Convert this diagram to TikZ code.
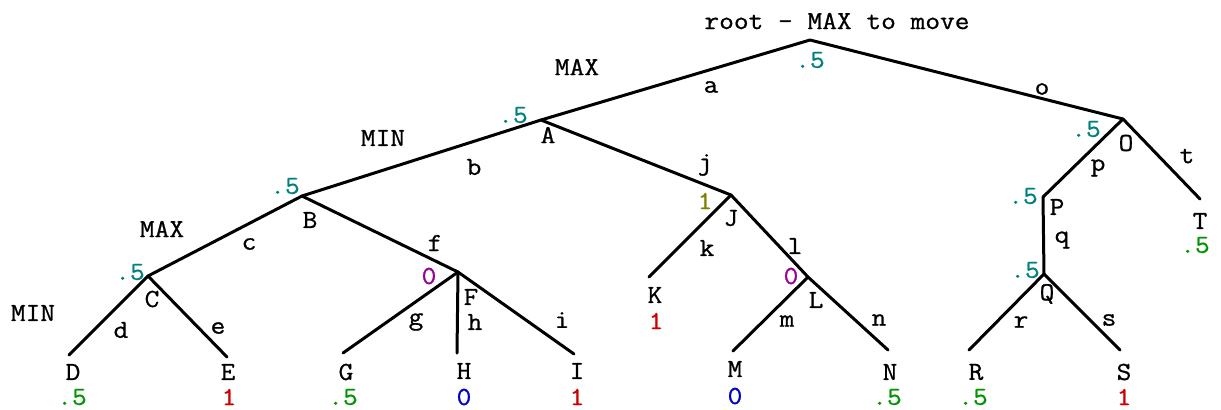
\documentclass[tikz,border=0pt]{standalone}
\usepackage{fontspec}
\newfontfamily\cour[FakeStretch=1.1,FakeBold=0.8]{Latin Modern Mono}
\definecolor{vteal}{RGB}{0,128,128}
\definecolor{vgreen}{RGB}{0,150,0}
\definecolor{vred}{RGB}{204,0,0}
\definecolor{vblue}{RGB}{0,0,204}
\definecolor{vpurple}{RGB}{153,0,153}
\definecolor{volive}{RGB}{128,128,0}
\tikzset{
  every node/.style={inner sep=0pt, font=\cour\fontsize{13}{14}\selectfont},
  branch/.style={line width=1.5pt, line cap=round, line join=round},
  nm/.style={text=black},
  el/.style={text=black},
  pl/.style={text=black},
  vteal/.style={text=vteal},
  vgreen/.style={text=vgreen},
  vred/.style={text=vred},
  vblue/.style={text=vblue},
  vpurple/.style={text=vpurple},
  volive/.style={text=volive},
}
\begin{document}
\begin{tikzpicture}[x=0.5pt,y=-0.5pt]
\useasboundingbox (0,0) rectangle (1221,409);
% tree vertices
\coordinate (root) at (810,40);
\coordinate (A) at (541,120);
\coordinate (O) at (1123,119);
\coordinate (B) at (302,196);
\coordinate (J) at (731,195);
\coordinate (C) at (148,276);
\coordinate (F) at (458,272);
\coordinate (D) at (69,355);
\coordinate (E) at (227,357);
\coordinate (G) at (343,353);
\coordinate (H) at (457,353);
\coordinate (I) at (574,354);
\coordinate (K) at (649,277);
\coordinate (L) at (808,277);
\coordinate (M) at (733,351);
\coordinate (N) at (888,350);
\coordinate (P) at (1043,197);
\coordinate (Q) at (1044,274);
\coordinate (R) at (969,350);
\coordinate (S) at (1120,350);
\coordinate (T) at (1200,199);
% branches
\draw[branch] (A) -- (root) -- (O);
\draw[branch] (B) -- (A) -- (J);
\draw[branch] (C) -- (B) -- (F);
\draw[branch] (D) -- (C) -- (E);
\draw[branch] (G) -- (F) -- (I);
\draw[branch] (F) -- (H);
\draw[branch] (K) -- (J) -- (L);
\draw[branch] (M) -- (L) -- (N);
\draw[branch] (P) -- (O) -- (T);
\draw[branch] (P) -- (Q);
\draw[branch] (R) -- (Q) -- (S);
% player labels
\node[pl] (title) at (837,21) {root - MAX to move};
\node[pl] (pl1) at (577,67) {MAX};
\node[pl] (pl2) at (383,138) {MIN};
\node[pl] (pl3) at (162,229) {MAX};
\node[pl] (pl4) at (33,313) {MIN};
% vertex names
\node[nm] (nA) at (548,135) {A};
\node[nm] (nB) at (310,220) {B};
\node[nm] (nC) at (152,299) {C};
\node[nm] (nF) at (471,297) {F};
\node[nm] (nJ) at (731,218) {J};
\node[nm] (nK) at (655,295) {K};
\node[nm] (nL) at (816,300) {L};
\node[nm] (nO) at (1126,143) {O};
\node[nm] (nP) at (1057,207) {P};
\node[nm] (nQ) at (1047,294) {Q};
\node[nm] (nT) at (1200,221) {T};
\node[nm] (nD) at (73,372) {D};
\node[nm] (nE) at (228,372) {E};
\node[nm] (nG) at (346,372) {G};
\node[nm] (nH) at (464,371) {H};
\node[nm] (nI) at (577,371) {I};
\node[nm] (nM) at (735,369) {M};
\node[nm] (nN) at (890,372) {N};
\node[nm] (nR) at (976,372) {R};
\node[nm] (nS) at (1124,372) {S};
% values
\node[vteal] (vroot) at (810,60) {.5};
\node[vteal] (vA) at (513,115) {.5};
\node[vteal] (vB) at (285,186) {.5};
\node[vteal] (vC) at (130,272) {.5};
\node[vpurple] (vF) at (429,276) {0};
\node[volive] (vJ) at (705,201) {1};
\node[vpurple] (vL) at (791,276) {0};
\node[vteal] (vO) at (1086,129) {.5};
\node[vteal] (vP) at (1023,196) {.5};
\node[vteal] (vQ) at (1025,270) {.5};
\node[vgreen] (vD) at (72,397) {.5};
\node[vred] (vE) at (229,397) {1};
\node[vgreen] (vG) at (343,397) {.5};
\node[vblue] (vH) at (464,397) {0};
\node[vred] (vI) at (577,397) {1};
\node[vred] (vK) at (656,321) {1};
\node[vblue] (vM) at (735,396) {0};
\node[vgreen] (vN) at (887,397) {.5};
\node[vgreen] (vR) at (973,397) {.5};
\node[vred] (vS) at (1124,397) {1};
\node[vgreen] (vT) at (1195,245) {.5};
% edge labels
\node[el] (ea) at (711,87) {a};
\node[el] (eo) at (1042,89) {o};
\node[el] (eb) at (474,167) {b};
\node[el] (ej) at (705,165) {j};
\node[el] (ec) at (249,244) {c};
\node[el] (ef) at (435,243) {f};
\node[el] (ek) at (707,248) {k};
\node[el] (el) at (795,246) {l};
\node[el] (ed) at (121,330) {d};
\node[el] (ee) at (218,328) {e};
\node[el] (eg) at (416,322) {g};
\node[el] (eh) at (475,322) {h};
\node[el] (ei) at (562,320) {i};
\node[el] (em) at (787,321) {m};
\node[el] (en) at (879,320) {n};
\node[el] (ep) at (1098,168) {p};
\node[el] (et) at (1187,156) {t};
\node[el] (eq) at (1062,240) {q};
\node[el] (er) at (1021,322) {r};
\node[el] (es) at (1109,320) {s};
\end{tikzpicture}
\end{document}
